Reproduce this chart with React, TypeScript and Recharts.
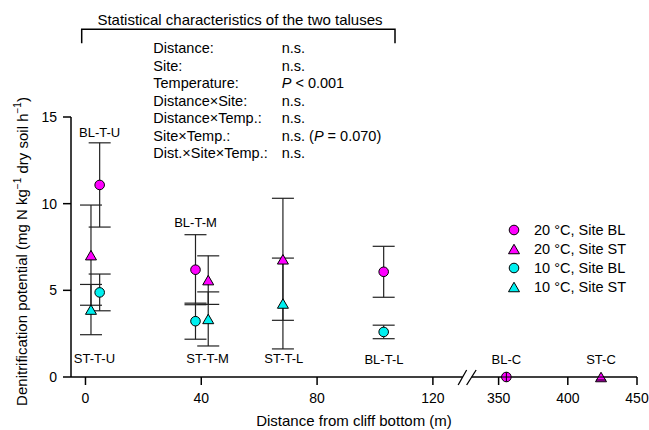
import React from "react";
import {
  ScatterChart,
  Scatter,
  XAxis,
  YAxis,
  ErrorBar,
  ReferenceDot,
  Legend,
} from "recharts";

const FONT = '"Liberation Sans", Arial, Helvetica, sans-serif';
const MAGENTA = "#ff00ff";
const CYAN = "#00f0f0";

// x axis is broken between 120 and 350 m
const distanceTicks = [0, 40, 80, 120, 350, 400, 450];
const valueTicks = [0, 5, 10, 15];
const seg2Start = 142.7;
const seg2Ratio = 0.478;
const breakAt = 132;

const toAxis = (d: number) => (d < 300 ? d : seg2Start + (d - 350) * seg2Ratio);
const fromAxis = (a: number) => (a <= breakAt ? a : 350 + (a - seg2Start) / seg2Ratio);

// 20 °C, Site BL
const bl20Dist = [4.9, 38, 103, 355.6];
const bl20Mean = [11.08, 6.19, 6.07, 0];
const bl20Err = [2.43, 2.02, 1.47, 0];
// 20 °C, Site ST
const st20Dist = [1.9, 42.4, 68.2, 424];
const st20Mean = [7.03, 5.59, 6.79, 0];
const st20Err = [2.89, 1.4, 3.52, 0];
// 10 °C, Site BL
const bl10Dist = [4.9, 38, 103];
const bl10Mean = [4.88, 3.22, 2.6];
const bl10Err = [1.06, 1.04, 0.39];
// 10 °C, Site ST
const st10Dist = [1.9, 42.4, 68.2];
const st10Mean = [3.89, 3.35, 4.24];
const st10Err = [1.45, 1.56, 2.62];

// sample site labels
const labelText = ["BL-T-U", "ST-T-U", "BL-T-M", "ST-T-M", "ST-T-L", "BL-T-L", "BL-C", "ST-C"];
const labelDist = [4.9, 3.1, 38, 42.2, 68.5, 103.1, 355.6, 424];
const labelValue = [14.09, 1.08, 8.9, 1.08, 1.08, 1.03, 1.03, 1.03];

const statNames = [
  "Distance:",
  "Site:",
  "Temperature:",
  "Distance\u00d7Site:",
  "Distance\u00d7Temp.:",
  "Site\u00d7Temp.:",
  "Dist.\u00d7Site\u00d7Temp.:",
];
const statValues = ["n.s.", "n.s.", "P < 0.001", "n.s.", "n.s.", "n.s. (P = 0.070)", "n.s."];

const build = (dist: number[], mean: number[], err: number[]) =>
  dist.map((d, i) => ({ ax: toAxis(d), y: mean[i], err: err[i] }));

const series = [
  { name: "20 \u00b0C, Site BL", kind: "circle", color: MAGENTA, data: build(bl20Dist, bl20Mean, bl20Err) },
  { name: "20 \u00b0C, Site ST", kind: "triangle", color: MAGENTA, data: build(st20Dist, st20Mean, st20Err) },
  { name: "10 \u00b0C, Site BL", kind: "circle", color: CYAN, data: build(bl10Dist, bl10Mean, bl10Err) },
  { name: "10 \u00b0C, Site ST", kind: "triangle", color: CYAN, data: build(st10Dist, st10Mean, st10Err) },
];

const labelData = labelText.map((t, i) => ({ ax: toAxis(labelDist[i]), y: labelValue[i], text: t }));

function Marker({ kind, color, cx, cy }: { kind: string; color: string; cx: number; cy: number }) {
  if (kind === "circle") {
    return <circle cx={cx} cy={cy} r={4.8} fill={color} stroke="#000" strokeWidth={1} />;
  }
  const h = 4.75;
  const w = 5.5;
  return (
    <path
      d={`M${cx},${cy - h}L${cx - w},${cy + h}L${cx + w},${cy + h}Z`}
      fill={color}
      stroke="#000"
      strokeWidth={1}
    />
  );
}

const makeShape = (kind: string, color: string) => (props: any) => {
  const { cx, cy, payload } = props;
  const zero = payload && payload.y === 0;
  return (
    <g>
      <Marker kind={kind} color={color} cx={cx} cy={cy} />
      {zero && kind === "circle" && (
        <g stroke="#000" strokeWidth={1}>
          <line x1={cx} y1={cy - 4.8} x2={cx} y2={cy + 4.8} />
          <line x1={cx - 4.8} y1={cy} x2={cx + 4.8} y2={cy} />
        </g>
      )}
      {zero && kind === "triangle" && (
        <g stroke="#000" strokeWidth={1}>
          <line x1={cx - 3} y1={cy} x2={cx + 3} y2={cy} />
          <line x1={cx - 5} y1={cy + 3} x2={cx + 5} y2={cy + 3} />
        </g>
      )}
    </g>
  );
};

const LabelShape = (props: any) => (
  <text
    x={props.cx}
    y={props.cy}
    textAnchor="middle"
    dominantBaseline="central"
    fontSize={13}
    fill="#000"
    fontFamily={FONT}
  >
    {props.payload.text}
  </text>
);

const BreakMark = (props: any) => {
  const { cx, cy } = props;
  return (
    <g>
      <rect x={cx - 5} y={cy - 2} width={9} height={4} fill="#fff" />
      <line x1={cx - 9.5} y1={cy + 8} x2={cx - 1} y2={cy - 7} stroke="#000" strokeWidth={1.3} />
      <line x1={cx - 1} y1={cy + 8} x2={cx + 8.5} y2={cy - 7} stroke="#000" strokeWidth={1.3} />
    </g>
  );
};

const LegendBox = () => (
  <div style={{ fontFamily: FONT, fontSize: 14.5, color: "#000" }}>
    {series.map((s) => (
      <div key={s.name} style={{ display: "flex", alignItems: "center", height: 18.9 }}>
        <svg width={16} height={14} style={{ marginRight: 12 }}>
          <Marker kind={s.kind} color={s.color} cx={8} cy={7} />
        </svg>
        <span style={{ whiteSpace: "nowrap" }}>{s.name}</span>
      </div>
    ))}
  </div>
);

const renderStat = (v: string) => {
  if (!v.includes("P")) return v;
  const [a, b] = v.split("P");
  return (
    <>
      {a}
      <tspan fontStyle="italic">P</tspan>
      {b}
    </>
  );
};

export default function App() {
  return (
    <div
      style={{
        position: "absolute",
        left: 0,
        top: 0,
        width: 649,
        height: 430,
        background: "#fff",
        fontFamily: FONT,
      }}
    >
      <ScatterChart width={649} height={430} margin={{ top: 117, right: 12, bottom: 0, left: 0 }}>
        <XAxis
          type="number"
          dataKey="ax"
          domain={[-5, 190.5]}
          ticks={distanceTicks.map(toAxis)}
          tickFormatter={(v: number) => String(Math.round(fromAxis(v)))}
          interval={0}
          allowDataOverflow
          height={53}
          tickSize={8}
          tickMargin={8}
          axisLine={{ stroke: "#000", strokeWidth: 1.5 }}
          tickLine={{ stroke: "#000", strokeWidth: 1.5 }}
          tick={{ fill: "#000", fontSize: 14 }}
        />
        <YAxis
          type="number"
          dataKey="y"
          domain={[0, 15]}
          ticks={valueTicks}
          interval={0}
          width={71}
          tickSize={8}
          tickMargin={6}
          axisLine={{ stroke: "#000", strokeWidth: 1.5 }}
          tickLine={{ stroke: "#000", strokeWidth: 1.5 }}
          tick={{ fill: "#000", fontSize: 14 }}
        />
        <ReferenceDot x={breakAt} y={0} r={0} ifOverflow="visible" shape={BreakMark} />
        {series.map((s) => (
          <Scatter
            key={s.name}
            name={s.name}
            data={s.data}
            fill={s.color}
            shape={makeShape(s.kind, s.color)}
            isAnimationActive={false}
          >
            <ErrorBar dataKey="err" direction="y" width={11} stroke="#222" strokeWidth={1.2} />
          </Scatter>
        ))}
        <Scatter
          name="labels"
          data={labelData}
          shape={LabelShape}
          legendType="none"
          isAnimationActive={false}
        />
        <Legend
          content={LegendBox}
          layout="vertical"
          align="center"
          verticalAlign="middle"
          wrapperStyle={{ left: 506, top: 221, width: 140 }}
        />
      </ScatterChart>
      <svg
        width={649}
        height={430}
        style={{ position: "absolute", left: 0, top: 0, pointerEvents: "none" }}
        fontFamily={FONT}
      >
        <text x={240} y={19.3} textAnchor="middle" dominantBaseline="central" fontSize={15}>
          Statistical characteristics of the two taluses
        </text>
        <path d="M81.7,43.3V29.3H395V43.3" fill="none" stroke="#000" strokeWidth={1.5} />
        {statNames.map((n, i) => (
          <g key={n} fontSize={14.5}>
            <text x={153.3} y={48.3 + i * 17.5} dominantBaseline="central">
              {n}
            </text>
            <text x={281.7} y={48.3 + i * 17.5} dominantBaseline="central">
              {renderStat(statValues[i])}
            </text>
          </g>
        ))}
        <text
          transform="translate(21.7,251.5) rotate(-90)"
          textAnchor="middle"
          dominantBaseline="central"
          fontSize={15}
        >
          Denitrification potential (mg N kg
          <tspan dy={-5} fontSize={10}>
            {"\u22121"}
          </tspan>
          <tspan dy={5}> dry soil h</tspan>
          <tspan dy={-5} fontSize={10}>
            {"\u22121"}
          </tspan>
          <tspan dy={5}>)</tspan>
        </text>
        <text x={354} y={420.5} textAnchor="middle" dominantBaseline="central" fontSize={15}>
          Distance from cliff bottom (m)
        </text>
      </svg>
    </div>
  );
}
